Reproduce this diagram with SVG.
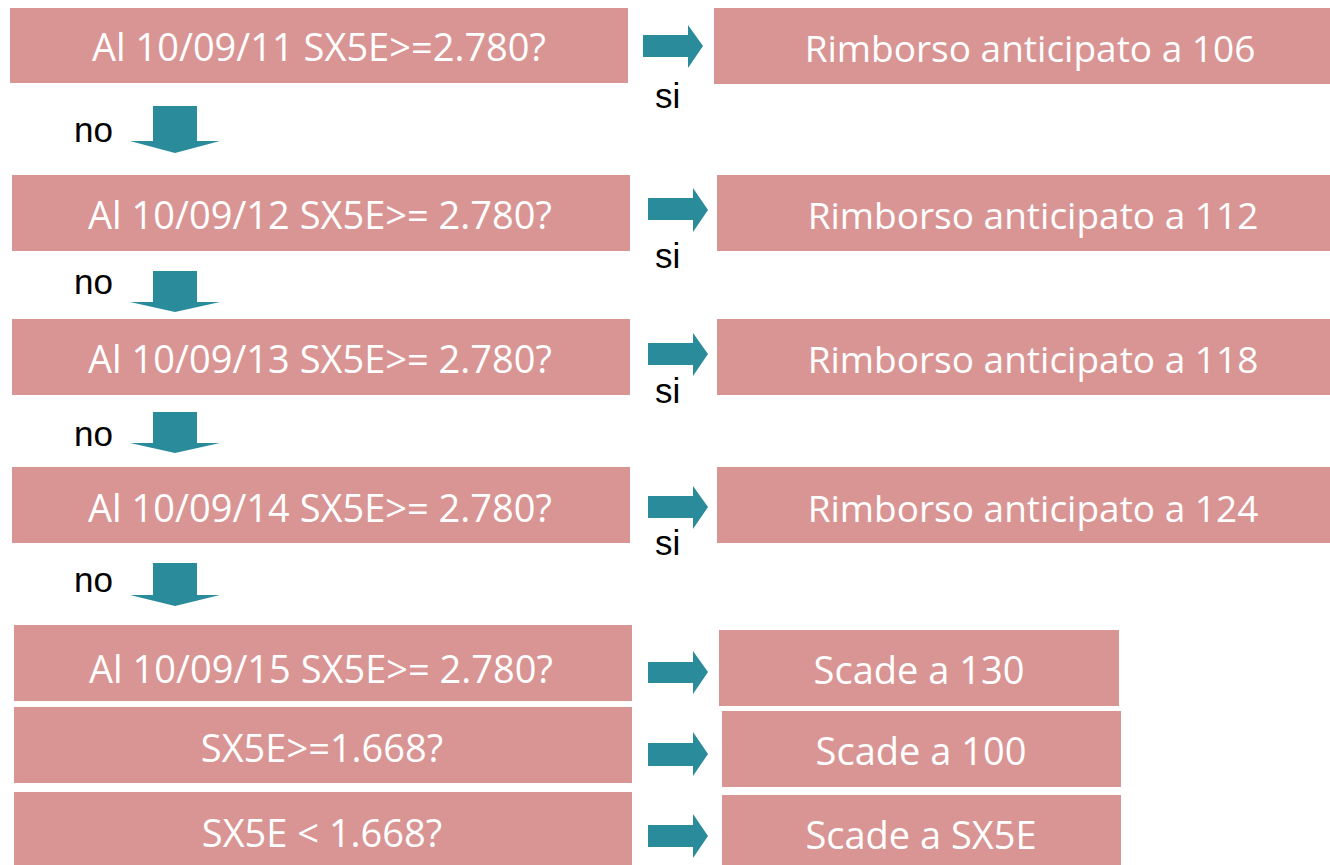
<svg xmlns="http://www.w3.org/2000/svg" width="1330" height="865" viewBox="0 0 1330 865">
<style>
.box{fill:#D99594}
.t{font-family:"Open Sans","Liberation Sans",sans-serif;font-size:38px;fill:#ffffff;text-anchor:middle}
.tr{font-size:37px}
.lbl{font-family:"Liberation Sans",Arial,sans-serif;font-size:35px;fill:#000000}
.arr{fill:#2A8B9A}
</style>
<rect width="1330" height="865" fill="#ffffff"/>
<g id="q1"><rect class="box" x="10" y="8" width="618" height="75"/><text class="t" x="319" y="61">Al 10/09/11 SX5E&gt;=2.780?</text></g>
<g id="r1"><rect class="box" x="714" y="8" width="620" height="76"/><text class="t tr" x="1030" y="62">Rimborso anticipato a 106</text></g>
<g id="q2"><rect class="box" x="12" y="175" width="618" height="76"/><text class="t" x="320" y="229">Al 10/09/12 SX5E&gt;= 2.780?</text></g>
<g id="r2"><rect class="box" x="717" y="175" width="617" height="76"/><text class="t tr" x="1033" y="229">Rimborso anticipato a 112</text></g>
<g id="q3"><rect class="box" x="12" y="319" width="618" height="76"/><text class="t" x="320" y="373">Al 10/09/13 SX5E&gt;= 2.780?</text></g>
<g id="r3"><rect class="box" x="717" y="319" width="617" height="76"/><text class="t tr" x="1033" y="373">Rimborso anticipato a 118</text></g>
<g id="q4"><rect class="box" x="12" y="467" width="618" height="76"/><text class="t" x="320" y="522">Al 10/09/14 SX5E&gt;= 2.780?</text></g>
<g id="r4"><rect class="box" x="717" y="467" width="617" height="76"/><text class="t tr" x="1033" y="522">Rimborso anticipato a 124</text></g>
<g id="q5"><rect class="box" x="14" y="625" width="618" height="76"/><text class="t" x="321" y="683">Al 10/09/15 SX5E&gt;= 2.780?</text></g>
<g id="r5"><rect class="box" x="719" y="630" width="400" height="76"/><text class="t" x="919" y="684">Scade a 130</text></g>
<g id="q6"><rect class="box" x="14" y="707" width="618" height="76"/><text class="t" x="322" y="762">SX5E&gt;=1.668?</text></g>
<g id="r6"><rect class="box" x="722" y="711" width="399" height="76"/><text class="t" x="921" y="765">Scade a 100</text></g>
<g id="q7"><rect class="box" x="14" y="792" width="618" height="78"/><text class="t" x="322" y="847">SX5E &lt; 1.668?</text></g>
<g id="r7"><rect class="box" x="722" y="795" width="399" height="75"/><text class="t" x="921" y="849">Scade a SX5E</text></g>
<g id="connectors">
<path class="arr" d="M643,35 H688 V25 L703,46 L688,68 V57 H643 Z"/>
<path class="arr" d="M648,198 H693 V188 L708,210 L693,232 V220 H648 Z"/>
<path class="arr" d="M648,343 H693 V333 L708,354 L693,376 V365 H648 Z"/>
<path class="arr" d="M648,496 H693 V486 L708,507 L693,529 V518 H648 Z"/>
<path class="arr" d="M648,662 H693 V651 L708,672 L693,694 V683 H648 Z"/>
<path class="arr" d="M648,743 H693 V732 L708,754 L693,776 V766 H648 Z"/>
<path class="arr" d="M648,825 H693 V814 L708,836 L693,858 V847 H648 Z"/>
<path class="arr" d="M153,106 H197 V141 H220 L175,153 L130,141 H153 Z"/>
<path class="arr" d="M153,271 H197 V302 H220 L175,312 L130,302 H153 Z"/>
<path class="arr" d="M153,412 H197 V443 H220 L175,453 L130,443 H153 Z"/>
<path class="arr" d="M153,563 H197 V595 H220 L175,606 L130,595 H153 Z"/>
<text class="lbl" x="655" y="108">si</text>
<text class="lbl" x="655" y="268">si</text>
<text class="lbl" x="655" y="403">si</text>
<text class="lbl" x="655" y="555">si</text>
<text class="lbl" x="74" y="142">no</text>
<text class="lbl" x="74" y="294">no</text>
<text class="lbl" x="74" y="446">no</text>
<text class="lbl" x="74" y="592">no</text>
</g>
</svg>
